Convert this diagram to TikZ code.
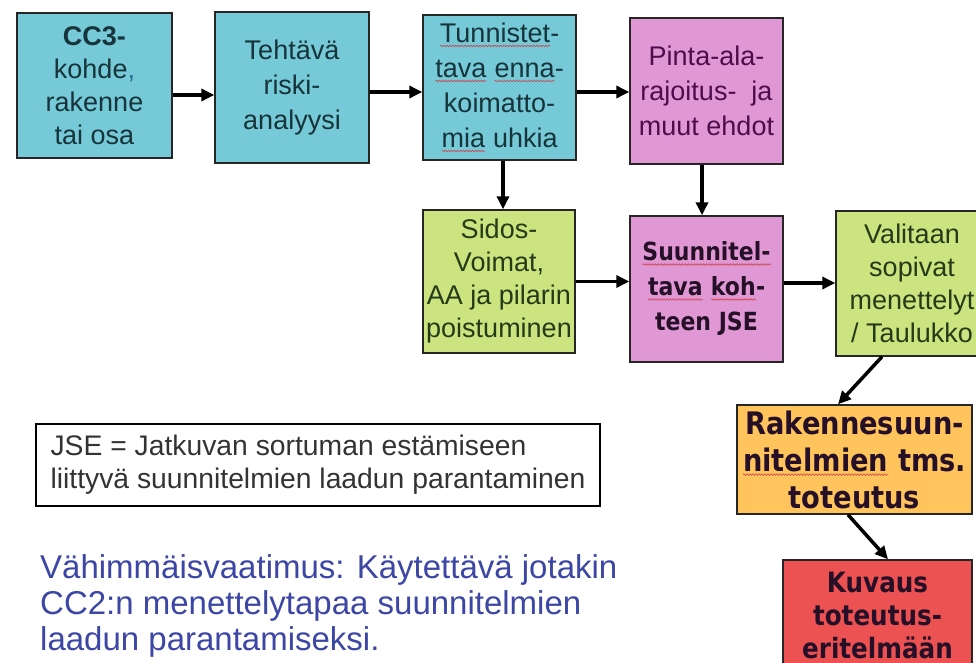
\documentclass[tikz,border=0pt]{standalone}
\usepackage{fontspec}
\setmainfont{Liberation Sans}
\newfontfamily\boldface{DejaVu Sans}[FakeStretch=0.88]
\usetikzlibrary{arrows.meta,decorations.pathmorphing}

\definecolor{boxcyan}{RGB}{118,201,215}
\definecolor{boxpink}{RGB}{223,152,212}
\definecolor{boxgreen}{RGB}{203,228,128}
\definecolor{boxorange}{RGB}{255,196,92}
\definecolor{boxred}{RGB}{236,82,82}
\definecolor{cyantext}{RGB}{22,52,58}
\definecolor{pinktext}{RGB}{78,12,78}
\definecolor{greentext}{RGB}{36,58,24}
\definecolor{darktext}{RGB}{38,16,40}
\definecolor{commablue}{RGB}{40,110,150}
\definecolor{notetext}{RGB}{60,70,165}
\definecolor{wavecol}{RGB}{205,70,80}

% word with a wavy proofing underline (inner node reset so it ignores the box style)
\newcommand\wv[1]{\tikz[baseline=(w.base)]{\node[draw=none,fill=none,inner sep=0pt,outer sep=0pt,
    minimum width=0pt,minimum height=0pt,align=left](w){#1};%
  \draw[wavecol,line width=0.6pt,decorate,decoration={snake,amplitude=0.8pt,segment length=3pt}]
    ([yshift=-3.5pt]w.base west) -- ([yshift=-3.5pt]w.base east);}}

\tikzset{
  box/.style={draw=black!85, line width=1.4pt, inner sep=0pt, align=center,
    font=\fontsize{27}{33}\selectfont},
  arr/.style={line width=3.5pt, -{Triangle[length=13pt,width=12pt]}},
}

\begin{document}
\begin{tikzpicture}[x=1pt,y=-1pt]
\useasboundingbox (0,0) rectangle (976,663);
\fill[white] (0,0) rectangle (976,663);
\clip (0,0) rectangle (976,663);

% top row
\node[box, fill=boxcyan, text=cyantext, minimum width=155pt, minimum height=145pt]
  (cc3) at (94.5,85.5) {{\bfseries CC3-}\\kohde\textcolor{commablue}{,}\\rakenne\\tai osa};
\node[box, fill=boxcyan, text=cyantext, minimum width=154pt, minimum height=151pt,
  font=\fontsize{27}{35}\selectfont]
  (risk) at (292,87.5) {Tehtävä\\riski-\\analyysi};
\node[box, fill=boxcyan, text=cyantext, minimum width=153pt, minimum height=145pt,
  font=\fontsize{27}{35}\selectfont]
  (tun) at (499.5,87.5) {\wv{Tunnistet}-\\\wv{tava} \wv{enna}-\\koimatto-\\\wv{mia} uhkia};
\node[box, fill=boxpink, text=pinktext, minimum width=153pt, minimum height=146pt,
  font=\fontsize{27}{35}\selectfont]
  (pinta) at (706.5,91) {Pinta-ala-\\rajoitus-\ \ ja\\muut ehdot};

% middle row
\node[box, fill=boxgreen, text=greentext, minimum width=152pt, minimum height=143pt]
  (sidos) at (499,281.5) {Sidos-\\Voimat,\\AA ja pilarin\\poistuminen};
\node[box, fill=boxpink, text=darktext, minimum width=153pt, minimum height=146pt,
  font=\fontsize{25}{35}\selectfont\boldface\bfseries]
  (jse) at (706.5,289) {\wv{Suunnitel-}\\\wv{tava} \wv{koh}-\\teen JSE};
\node[box, fill=boxgreen, text=greentext, minimum width=152pt, minimum height=145pt]
  (valit) at (912,283.5) {Valitaan\\sopivat\\menettelyt\\/ Taulukko};

% lower right chain
\node[box, fill=boxorange, text=darktext, minimum width=235pt, minimum height=109pt,
  font=\fontsize{31}{37}\selectfont\boldface\bfseries]
  (toteutus) at (854.5,459.5) {Rakennesuun-\\\wv{nitelmien} tms.\\toteutus};
\node[box, fill=boxred, text=darktext, minimum width=189pt, minimum height=110pt,
  font=\fontsize{28}{33}\selectfont\boldface\bfseries]
  (kuvaus) at (877.5,615) {Kuvaus\\toteutus-\\eritelmään};

% legend and note
\node[draw=black, line width=1.2pt, fill=white, inner sep=0pt, align=left,
  minimum width=564pt, minimum height=82pt, text=black!80,
  font=\fontsize{28.3}{33}\selectfont]
  (legend) at (318,465) {JSE = Jatkuvan sortuman estämiseen\\liittyvä suunnitelmien laadun parantaminen};
\node[anchor=west, align=left, inner sep=0pt, text=notetext,
  font=\fontsize{33}{36}\selectfont]
  (note) at (40,606) {Vähimmäisvaatimus: Käytettävä jotakin\\CC2:n menettelytapaa suunnitelmien\\laadun parantamiseksi.};

% connectors
\draw[arr] ([yshift=-9.5pt]cc3.east) -- ([yshift=-9.5pt]cc3.east -| risk.west);
\draw[arr] ([yshift=-4.5pt]risk.east) -- ([yshift=-4.5pt]risk.east -| tun.west);
\draw[arr] ([yshift=-4.5pt]tun.east) -- ([yshift=-4.5pt]tun.east -| pinta.west);
\draw[arr] ([xshift=3.5pt]tun.south) -- ([xshift=3.5pt]tun.south |- sidos.north);
\draw[arr] ([xshift=-4.5pt]pinta.south) -- ([xshift=-4.5pt]pinta.south |- jse.north);
\draw[arr] (sidos.east) -- (sidos.east -| jse.west);
\draw[arr] ([yshift=6pt]jse.east) -- ([yshift=6pt]jse.east -| valit.west);
\draw[arr] ([xshift=-30pt]valit.south) -- ([xshift=-16.5pt]toteutus.north);
\draw[arr] ([xshift=-6.5pt]toteutus.south) -- ([xshift=10.5pt]kuvaus.north);
\end{tikzpicture}
\end{document}
